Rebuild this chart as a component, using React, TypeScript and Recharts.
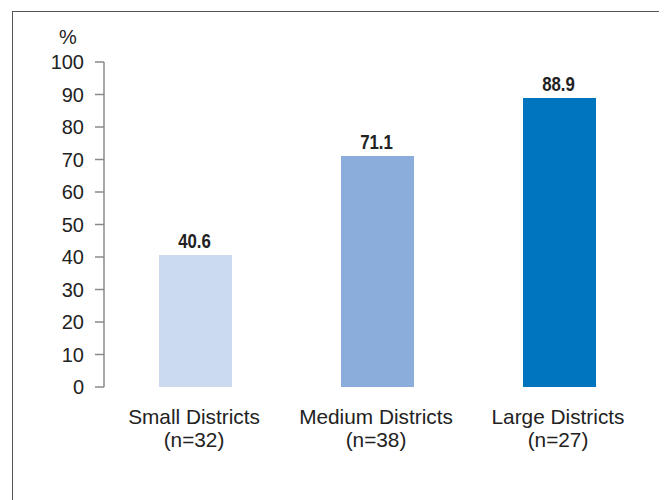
import React from 'react';
import { BarChart, Bar, XAxis, YAxis, LabelList, Cell } from 'recharts';

const categories = ['Small Districts', 'Medium Districts', 'Large Districts'];
const sampleSizes = ['(n=32)', '(n=38)', '(n=27)'];
const percentages = [40.6, 71.1, 88.9];
const barColors = ['#CCDAF0', '#8AADDB', '#0075BF'];
const yTicks = [0, 10, 20, 30, 40, 50, 60, 70, 80, 90, 100];
const edgeTicks = [0, 1, 2, 3];

const data = categories.map((name, i) => ({
  name,
  n: sampleSizes[i],
  value: percentages[i],
}));

const FONT = '"Liberation Sans", Arial, sans-serif';
const AXIS_COLOR = '#8a8a8a';

const CategoryTick = (props: any) => {
  const { x, y, payload } = props;
  const row = data.find((d) => d.name === payload.value);
  return (
    <text x={x - 1} y={y} textAnchor="middle" fill="#222" fontSize={20.8} fontFamily={FONT}>
      <tspan x={x - 1} dy={37}>{payload.value}</tspan>
      <tspan x={x - 1} dy={23}>{row ? row.n : ''}</tspan>
    </text>
  );
};

// narrow bold value label above each bar
const ValueLabel = (props: any) => {
  const { x, y, width, value } = props;
  const cx = x + width / 2 - 1;
  return (
    <text
      x={cx}
      y={y - 7}
      textAnchor="middle"
      fill="#222"
      fontSize={21}
      fontWeight="bold"
      fontFamily={FONT}
      transform={`translate(${cx} 0) scale(0.8 1) translate(${-cx} 0)`}
    >
      {Number(value).toFixed(1)}
    </text>
  );
};

const App = () => {
  return (
    <div style={{ position: 'relative', width: 659, height: 492, overflow: 'hidden' }}>
      <div
        style={{
          position: 'absolute',
          left: 4,
          top: 3,
          width: 700,
          height: 600,
          borderLeft: '1.5px solid #555',
          borderTop: '1.5px solid #555',
        }}
      />
      <div style={{ position: 'absolute', left: 0, top: 0 }}>
        <BarChart
          width={659}
          height={492}
          data={data}
          margin={{ top: 54, right: 17, bottom: 53, left: 36 }}
        >
          <XAxis
            xAxisId="edges"
            type="number"
            domain={[0, 3]}
            ticks={edgeTicks}
            allowDataOverflow
            height={0}
            tick={false}
            tickSize={12}
            tickLine={{ stroke: AXIS_COLOR, strokeWidth: 1.5 }}
            axisLine={{ stroke: AXIS_COLOR, strokeWidth: 1.5 }}
          />
          <XAxis
            xAxisId="cat"
            dataKey="name"
            height={60}
            axisLine={false}
            tickLine={false}
            tickSize={0}
            tickMargin={0}
            interval={0}
            tick={<CategoryTick />}
          />
          <YAxis
            width={60}
            domain={[0, 100]}
            ticks={yTicks}
            interval={0}
            tickSize={9}
            tickMargin={11}
            axisLine={{ stroke: AXIS_COLOR, strokeWidth: 1.5 }}
            tickLine={{ stroke: AXIS_COLOR, strokeWidth: 1.5 }}
            tick={{ fill: '#222', fontSize: 20, fontFamily: FONT }}
            label={{
              value: '%',
              position: 'top',
              offset: 18,
              dx: -6,
              fill: '#222',
              fontSize: 20,
              fontFamily: FONT,
            }}
          />
          <Bar dataKey="value" xAxisId="cat" barSize={73} isAnimationActive={false}>
            {data.map((d, i) => (
              <Cell key={d.name} fill={barColors[i]} />
            ))}
            <LabelList dataKey="value" content={<ValueLabel />} />
          </Bar>
        </BarChart>
      </div>
    </div>
  );
};

export default App;
